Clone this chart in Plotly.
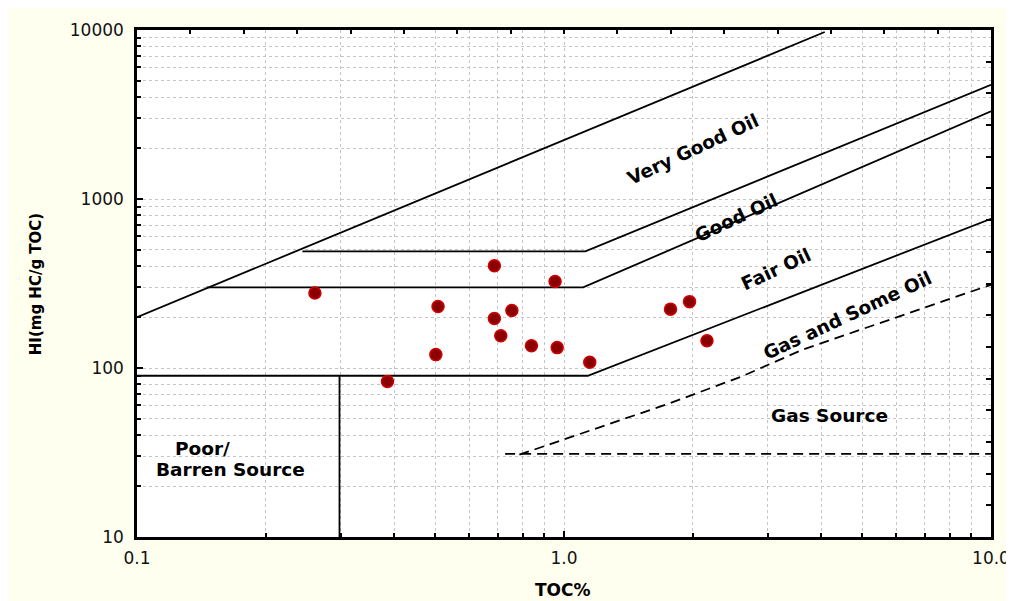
import numpy as np
import plotly.graph_objects as go

# ---- data ----
toc = [0.261, 0.386, 0.507, 0.501, 0.687, 0.687, 0.711, 0.755, 0.839, 0.953, 0.964, 1.149, 1.776, 1.968, 2.162]
hi = [278, 83.3, 231, 120, 403, 196.5, 155, 219, 135.5, 325, 132, 108, 223, 247, 145]

# boundary lines (TOC %, HI)
very_good_upper_x = [0.1, 4.08]
very_good_upper_y = [200, 9730]
good_upper_x = [0.244, 1.122, 10.0]
good_upper_y = [490, 490, 4745]
fair_upper_x = [0.1455, 1.109, 10.0]
fair_upper_y = [300, 300, 3300]
gas_oil_upper_x = [0.1, 1.137, 10.0]
gas_oil_upper_y = [90, 90, 764]
poor_vertical_x = [0.298, 0.298]
poor_vertical_y = [90, 10]
gas_dashed_x = [0.786, 1.202, 1.758, 2.598, 3.62, 10.0]
gas_dashed_y = [30.7, 44.3, 61.5, 88.8, 128.3, 311]
gas_floor_x = [0.728, 10.0]
gas_floor_y = [31, 31]

x_tickvals = [0.1, 1, 10]
x_ticktext = ["0.1", "1.0", "10.0"]
y_tickvals = [10, 100, 1000, 10000]
y_ticktext = ["10", "100", "1000", "10000"]

labels = [
    ("Very Good Oil", 2.0, 1958, -25),
    ("Good Oil", 2.54, 774, -25),
    ("Fair Oil", 3.13, 382, -25),
    ("Gas and Some Oil", 4.61, 204, -25),
    ("Gas Source", 4.18, 52.7, 0),
    ("Poor/", 0.142, 33.3, 0),
    ("Barren Source", 0.166, 25, 0),
]

CREAM = "#FFFFF0"
GRID = "#C4C4C4"

fig = go.Figure()

def add_line(xs, ys, dash="solid"):
    fig.add_trace(go.Scatter(x=xs, y=ys, mode="lines",
                             line=dict(color="black", width=1.8, dash=dash),
                             showlegend=False, hoverinfo="skip"))

add_line(very_good_upper_x, very_good_upper_y)
add_line(good_upper_x, good_upper_y)
add_line(fair_upper_x, fair_upper_y)
add_line(gas_oil_upper_x, gas_oil_upper_y)
add_line(poor_vertical_x, poor_vertical_y)
add_line(gas_dashed_x, gas_dashed_y, dash="10px,6px")
add_line(gas_floor_x, gas_floor_y, dash="10px,6px")

fig.add_trace(go.Scatter(x=toc, y=hi, mode="markers",
                         marker=dict(size=12, color="#8B0000",
                                     line=dict(color="#D00000", width=1.5)),
                         showlegend=False))

# invisible trace for the top/right evenly spaced tick axes
fig.add_trace(go.Scatter(x=[0, 16], y=[0, 16], xaxis="x2", yaxis="y2",
                         mode="markers", marker=dict(opacity=0),
                         showlegend=False, hoverinfo="skip"))

axis_font = dict(family="DejaVu Sans", size=17, color="#111")

fig.update_layout(
    width=1014, height=601, autosize=False,
    margin=dict(l=129, r=25.3, t=22, b=71.7),
    paper_bgcolor=CREAM, plot_bgcolor="white",
    xaxis=dict(type="log", range=[-1, 1], tickvals=x_tickvals, ticktext=x_ticktext,
               ticks="inside", ticklen=6, tickwidth=1.5, tickcolor="black",
               showline=True, linecolor="black", linewidth=2.5, mirror=True,
               showgrid=True, gridcolor=GRID, griddash="dot", gridwidth=1,
               zeroline=False, tickfont=axis_font, ticklabelstandoff=4,
               ticklabeloverflow="allow",
               minor=dict(ticks="inside", ticklen=4, tickcolor="black", dtick="D1",
                          showgrid=True, gridcolor=GRID, griddash="dot", gridwidth=1)),
    yaxis=dict(type="log", range=[1, 4], tickvals=y_tickvals, ticktext=y_ticktext,
               ticks="inside", ticklen=6, tickwidth=1.5, tickcolor="black",
               showline=True, linecolor="black", linewidth=2.5, mirror=True,
               showgrid=True, gridcolor=GRID, griddash="dot", gridwidth=1,
               zeroline=False, tickfont=axis_font, ticklabelstandoff=7,
               ticklabeloverflow="allow",
               minor=dict(ticks="inside", ticklen=4, tickcolor="black", dtick="D1",
                          showgrid=True, gridcolor=GRID, griddash="dot", gridwidth=1)),
    xaxis2=dict(overlaying="x", side="top", anchor="y", range=[0, 16], dtick=1,
                ticks="inside", ticklen=4, tickwidth=1.5, tickcolor="black",
                showticklabels=False, showgrid=False, zeroline=False, showline=False),
    yaxis2=dict(overlaying="y", side="right", anchor="x", range=[0, 16], dtick=1,
                ticks="inside", ticklen=5, tickwidth=1.5, tickcolor="black",
                showticklabels=False, showgrid=False, zeroline=False, showline=False),
)

for text, xv, yv, ang in labels:
    fig.add_annotation(x=np.log10(xv), y=np.log10(yv), xref="x", yref="y",
                       text=text, showarrow=False, textangle=ang,
                       font=dict(family="DejaVu Sans", size=18.5, color="black", weight="bold"))

fig.add_annotation(x=0.499, y=-0.104, xref="paper", yref="paper", text="TOC%",
                   showarrow=False, xanchor="center", yanchor="middle",
                   font=dict(family="DejaVu Sans", size=17, color="black", weight="bold"))
fig.add_annotation(x=-0.1186, y=0.498, xref="paper", yref="paper",
                   text="HI(mg HC/g TOC)", showarrow=False, textangle=-90,
                   xanchor="center", yanchor="middle",
                   font=dict(family="DejaVu Sans", size=15, color="black", weight="bold"))

fig.write_html("out.html")
